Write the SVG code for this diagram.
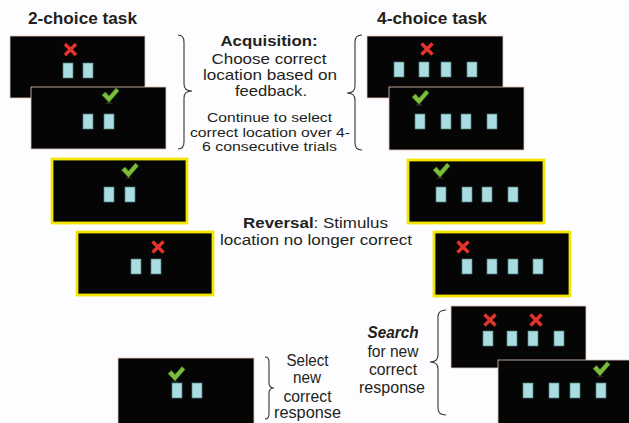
<svg xmlns="http://www.w3.org/2000/svg" xmlns:xlink="http://www.w3.org/1999/xlink" width="629" height="423" viewBox="0 0 629 423">
<style>
.bg{fill:#fdfdff}
.pan{fill:#050505;stroke:#e6c9b8;stroke-width:0.8}
.ypan{fill:#050505;stroke:#f2e500;stroke-width:2.8}
.sq{fill:#a9dde1;stroke:#4f7f82;stroke-width:0.7}
.brace{fill:none;stroke:#333;stroke-width:1.1}
text{font-family:"Liberation Sans",Arial,sans-serif;fill:#231f20}
.t{font-size:16.5px;font-weight:bold}
.m{font-size:15px;text-anchor:middle}
.s{font-size:13px;text-anchor:middle}
.l{font-size:16px;text-anchor:middle}
.b{font-weight:bold}
</style>
<defs>
<g id="chk">
<ellipse cx="-1.5" cy="7.5" rx="3.5" ry="1" fill="#3a3a3a" opacity="0.6"/>
<path d="M-8.5,-0.5 L-5,-3.5 L-1.5,0.5 L5.5,-7.5 L8.5,-4.5 L-1.5,7 Z" fill="#7cbd3c" stroke="#3f7a1c" stroke-width="0.6" stroke-linejoin="round"/>
</g>
<g id="crs">
<path d="M-5.5,-5.5 L5.5,5.5 M5.5,-5.5 L-5.5,5.5" stroke="#e5322d" stroke-width="3.4" fill="none"/>
</g>
<rect id="sq" class="sq" width="10" height="15"/>
</defs>
<rect class="bg" width="629" height="423"/>

<g id="titles">
<text class="t" x="28" y="24" textLength="109" lengthAdjust="spacingAndGlyphs">2-choice task</text>
<text class="t" x="377" y="24" textLength="110" lengthAdjust="spacingAndGlyphs">4-choice task</text>
</g>

<!-- 2-choice acquisition -->
<g id="acq2a">
<rect class="pan" x="10" y="36" width="135" height="62"/>
<use href="#crs" x="70.5" y="49.5"/>
<use href="#sq" x="63" y="63"/><use href="#sq" x="83" y="63"/>
</g>
<g id="acq2b">
<rect class="pan" x="31" y="87" width="135" height="62"/>
<use href="#chk" x="110.5" y="95.5"/>
<use href="#sq" x="83" y="114"/><use href="#sq" x="104" y="114"/>
</g>

<!-- 4-choice acquisition -->
<g id="acq4a">
<rect class="pan" x="367" y="36" width="136" height="62"/>
<use href="#crs" x="427" y="49"/>
<use href="#sq" x="394" y="62"/><use href="#sq" x="419" y="62"/><use href="#sq" x="441" y="62"/><use href="#sq" x="467" y="62"/>
</g>
<g id="acq4b">
<rect class="pan" x="389" y="87" width="135" height="63"/>
<use href="#chk" x="420.5" y="97.5"/>
<use href="#sq" x="415" y="114"/><use href="#sq" x="441" y="114"/><use href="#sq" x="461" y="114"/><use href="#sq" x="487" y="114"/>
</g>

<g id="acqText">
<text class="m b" x="269" y="46" textLength="97" lengthAdjust="spacingAndGlyphs">Acquisition:</text>
<text class="m" x="269" y="64" textLength="115" lengthAdjust="spacingAndGlyphs">Choose correct</text>
<text class="m" x="270" y="80" textLength="134" lengthAdjust="spacingAndGlyphs">location based on</text>
<text class="m" x="271" y="96" textLength="72" lengthAdjust="spacingAndGlyphs">feedback.</text>
<text class="s" x="269.5" y="122" textLength="125" lengthAdjust="spacingAndGlyphs">Continue to select</text>
<text class="s" x="270" y="136.5" textLength="160" lengthAdjust="spacingAndGlyphs">correct location over 4-</text>
<text class="s" x="269.5" y="151" textLength="135" lengthAdjust="spacingAndGlyphs">6 consecutive trials</text>
</g>

<!-- reversal -->
<g id="rev2a">
<rect class="ypan" x="52" y="159" width="135" height="64"/>
<use href="#chk" x="130" y="170.5"/>
<use href="#sq" x="104" y="187"/><use href="#sq" x="125" y="187"/>
</g>
<g id="rev2b">
<rect class="ypan" x="77" y="232" width="136" height="63"/>
<use href="#crs" x="158" y="247"/>
<use href="#sq" x="131" y="259"/><use href="#sq" x="151" y="259"/>
</g>
<g id="rev4a">
<rect class="ypan" x="408" y="160" width="136" height="63"/>
<use href="#chk" x="441.5" y="170.5"/>
<use href="#sq" x="436" y="187"/><use href="#sq" x="462" y="187"/><use href="#sq" x="482" y="187"/><use href="#sq" x="508" y="187"/>
</g>
<g id="rev4b">
<rect class="ypan" x="434" y="232" width="136" height="64"/>
<use href="#crs" x="463" y="247"/>
<use href="#sq" x="462" y="259"/><use href="#sq" x="487" y="259"/><use href="#sq" x="508" y="259"/><use href="#sq" x="533" y="259"/>
</g>
<g id="revText">
<text x="243" y="228" font-size="15.5" textLength="145" lengthAdjust="spacingAndGlyphs"><tspan class="b">Reversal</tspan>: Stimulus</text>
<text x="220" y="245" font-size="15.5" textLength="192" lengthAdjust="spacingAndGlyphs">location no longer correct</text>
</g>

<!-- search 4-choice -->
<g id="srch4a">
<rect class="pan" x="451" y="306" width="135" height="62"/>
<use href="#crs" x="490" y="320"/><use href="#crs" x="536" y="320"/>
<use href="#sq" x="483" y="331"/><use href="#sq" x="507" y="331"/><use href="#sq" x="528" y="331"/><use href="#sq" x="554" y="331"/>
</g>
<g id="srch4b">
<rect class="pan" x="498" y="360" width="140" height="70"/>
<use href="#chk" x="601.5" y="369"/>
<use href="#sq" x="523" y="383"/><use href="#sq" x="549" y="383"/><use href="#sq" x="570" y="383"/><use href="#sq" x="596" y="383"/>
</g>
<g id="srchText">
<text class="l" x="393" y="338" textLength="51" lengthAdjust="spacingAndGlyphs" font-weight="bold" font-style="italic">Search</text>
<text class="l" x="393" y="357" textLength="51" lengthAdjust="spacingAndGlyphs">for new</text>
<text class="l" x="393" y="375" textLength="48" lengthAdjust="spacingAndGlyphs">correct</text>
<text class="l" x="392" y="393" textLength="66" lengthAdjust="spacingAndGlyphs">response</text>
</g>

<!-- select 2-choice -->
<g id="sel2">
<rect class="pan" x="118" y="358" width="136" height="70"/>
<use href="#chk" x="176.5" y="374"/>
<use href="#sq" x="172" y="383"/><use href="#sq" x="192" y="383"/>
</g>
<g id="selText">
<text class="l" x="307.5" y="365.5" textLength="42" lengthAdjust="spacingAndGlyphs">Select</text>
<text class="l" x="307" y="383" textLength="28" lengthAdjust="spacingAndGlyphs">new</text>
<text class="l" x="307.5" y="401.5" textLength="48" lengthAdjust="spacingAndGlyphs">correct</text>
<text class="l" x="307.5" y="418" textLength="67" lengthAdjust="spacingAndGlyphs">response</text>
</g>

<g id="connectors">
<path class="brace" d="M178,35 Q184,35 184,42 L184,84 Q184,91 192,91 Q184,91 184,98 L184,142 Q184,149 178,149"/>
<path class="brace" d="M362,35 Q355,35 355,42 L355,86 Q355,93 347,93 Q355,93 355,100 L355,143 Q355,150 362,150"/>
<path class="brace" d="M446,310 Q438,310 438,317 L438,355 Q438,362 430,362 Q438,362 438,369 L438,408 Q438,415 446,415"/>
<path class="brace" d="M265,357 Q269,357 269,362 L269,383 Q269,388 274,388 Q269,388 269,393 L269,414 Q269,419 265,419"/>
</g>
</svg>
